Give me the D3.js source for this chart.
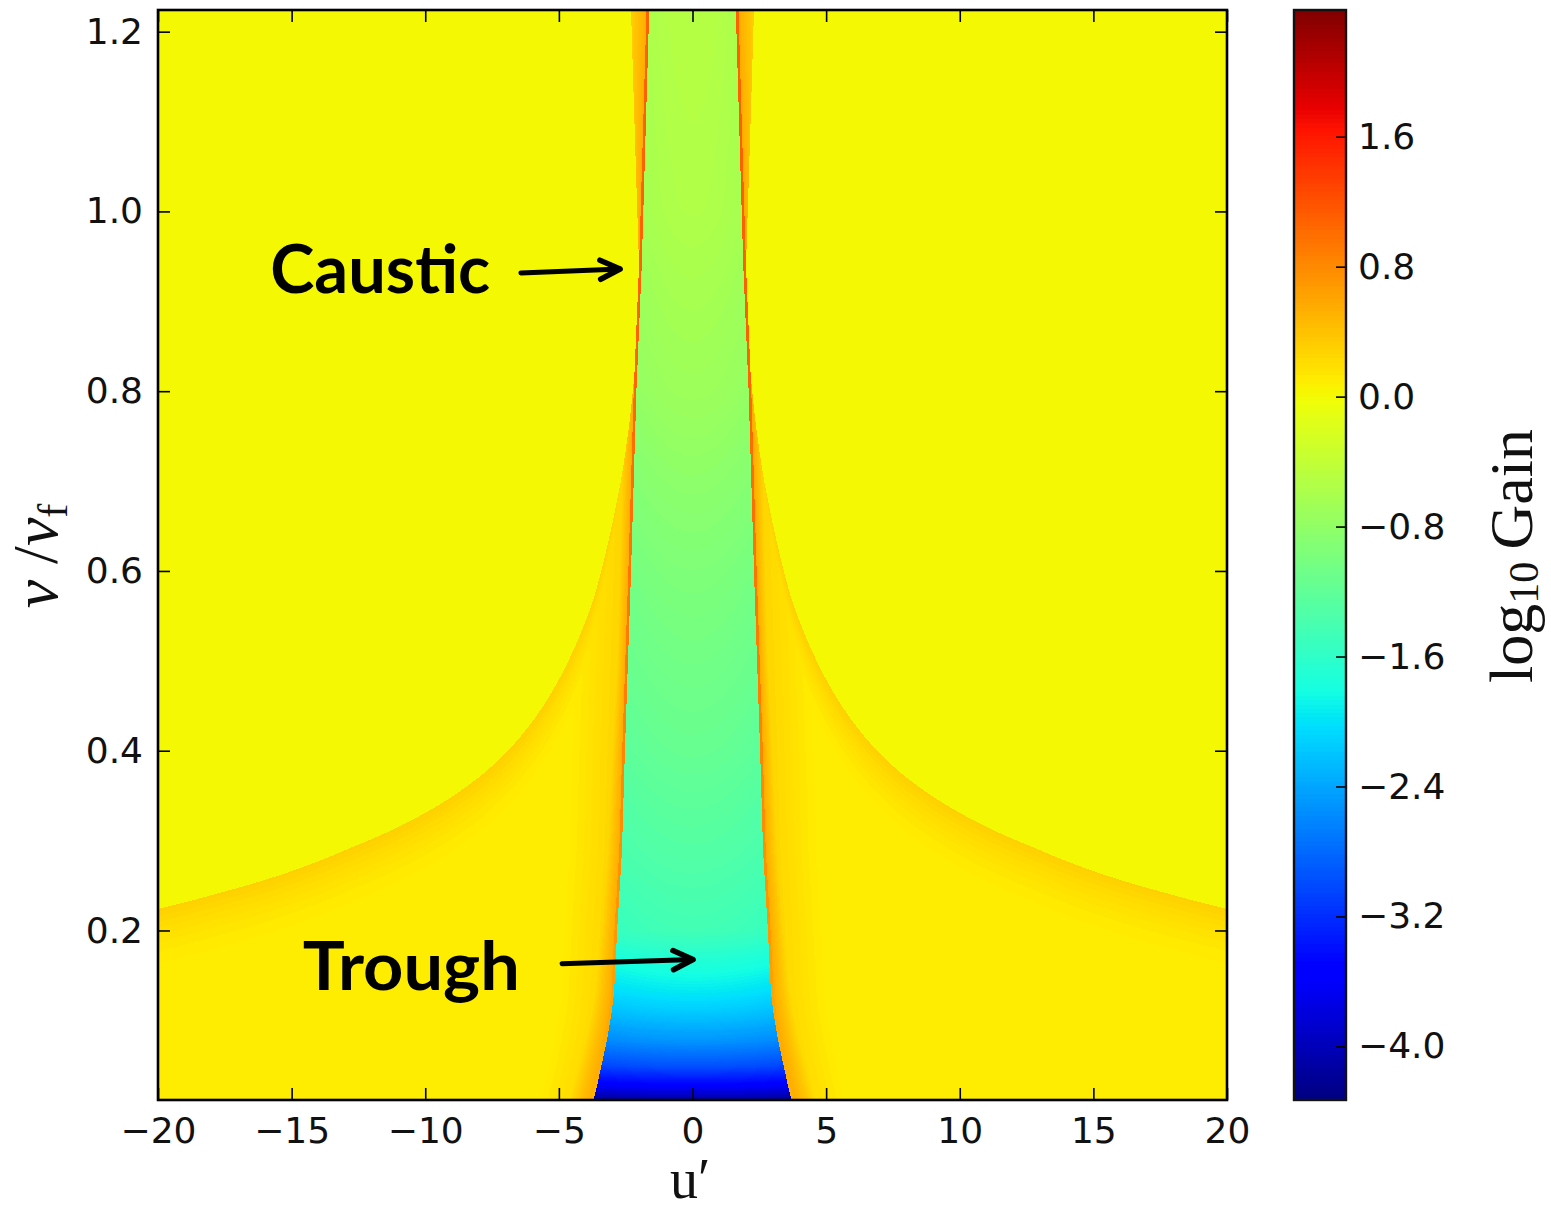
<!DOCTYPE html>
<html>
<head>
<meta charset="utf-8">
<script src="https://cdn.jsdelivr.net/npm/d3@7"></script>
<style>
  body { margin: 0; background: #fff; }
  svg { display: block; }
</style>
</head>
<body>
<svg id="chart" width="1551" height="1213"></svg>
<script>
// ---- values ----
const xTicks = [-20, -15, -10, -5, 0, 5, 10, 15, 20];
const yTicks = [0.2, 0.4, 0.6, 0.8, 1.0, 1.2];
const cbTicks = [1.6, 0.8, 0.0, -0.8, -1.6, -2.4, -3.2, -4.0];

// trough (low-gain channel round u' = 0): half width and log10 gain against nu/nu_f
const troughNu        = [0.012, 0.030, 0.044, 0.078, 0.110, 0.133, 0.170, 0.200, 0.289, 0.400, 0.600, 0.800, 0.940, 1.224];
const troughHalfWidth = [3.70, 3.55, 3.45, 3.20, 3.02, 2.93, 2.87, 2.82, 2.64, 2.53, 2.30, 2.10, 1.90, 1.62];
const gainNu          = [0.012, 0.030, 0.050, 0.078, 0.110, 0.133, 0.167, 0.200, 0.289, 0.400, 0.600, 0.800, 1.000, 1.224];
const troughGain      = [-4.10, -3.45, -2.95, -2.50, -2.15, -1.95, -1.70, -1.45, -1.30, -1.15, -0.95, -0.70, -0.55, -0.50];

// caustic line on the trough edge, and the orange glow beside it
const causticNu   = [0.012, 0.200, 0.500, 0.900, 1.224];
const causticGain = [0.50, 0.70, 0.90, 1.10, 1.10];
const rimWidth    = [0.90, 0.60, 0.40, 0.50, 0.70];

// outer edge of the orange shelf (|u'| against nu/nu_f)
const shelfNu = [0.224, 0.241, 0.263, 0.292, 0.326, 0.374, 0.411, 0.456, 0.511, 0.567, 0.641, 0.714, 0.770, 0.826, 0.881, 0.940, 1.224];
const shelfU  = [20.0, 17.8, 15.3, 12.8, 10.3, 7.84, 6.57, 5.45, 4.47, 3.72, 3.09, 2.60, 2.34, 2.15, 2.04, 2.00, 2.30];

const outsideGain = 0.0;
const shelfNear = 0.30, shelfFar = 0.08, rimPeak = 0.55;

// ---- layout ----
const svg = d3.select('#chart');
const plotL = 158, plotR = 1227, plotT = 10, plotB = 1100;
const cbLeft = 1294, cbRight = 1346;

const x = d3.scaleLinear().domain([-20, 20]).range([plotL, plotR]);
const y = d3.scaleLinear().domain([0.0114, 1.2241]).range([plotB, plotT]);
const cb = d3.scaleLinear().domain([-4.33, 2.38]).range([plotB, plotT]);

// matplotlib jet
const jetR = d3.scaleLinear().domain([0, 0.35, 0.66, 0.89, 1]).range([0, 0, 1, 1, 0.5]).clamp(true);
const jetG = d3.scaleLinear().domain([0, 0.125, 0.375, 0.64, 0.91, 1]).range([0, 0, 1, 1, 0, 0]).clamp(true);
const jetB = d3.scaleLinear().domain([0, 0.11, 0.34, 0.65, 1]).range([0.5, 1, 1, 0, 0]).clamp(true);
const lut = d3.range(256).map(i => {
    let t = i / 255;
    return [Math.round(jetR(t) * 255), Math.round(jetG(t) * 255), Math.round(jetB(t) * 255)];
});
const tOf = d3.scaleLinear().domain(cb.domain()).range([0, 255]).clamp(true);
const colorOf = v => lut[Math.round(tOf(v))];

// lookups on the read values
const troughEdge = d3.scaleLinear().domain(troughNu).range(troughHalfWidth).clamp(true);
const troughLevel = d3.scaleLinear().domain(gainNu).range(troughGain).clamp(true);
const causticLevel = d3.scaleLinear().domain(causticNu).range(causticGain).clamp(true);
const rimW = d3.scaleLinear().domain(causticNu).range(rimWidth).clamp(true);
// the shelf edge is close to a power law, so look it up in log-log
const shelfLog = d3.scaleLog().domain(shelfNu).range(shelfU.map(Math.log));
const shelfEdge = nu => Math.exp(shelfLog(nu));
const shelfInv = d3.scaleLog().domain(shelfU.slice(0, 15)).range(shelfNu.slice(0, 15).map(Math.log));
const shelfCurveNu = a => Math.exp(shelfInv(a));

function gainAt(u, nu) {
    let a = Math.abs(u);
    let w = troughEdge(nu);
    if (a < w) return troughLevel(nu) - 0.08 * (a / w) * (a / w);
    let r = a - w;
    if (r < 0.1) return causticLevel(nu);
    let outer = shelfEdge(nu);
    if (a > outer) return outsideGain;
    let dnu = a < 2.04 ? 0 : shelfCurveNu(a) - nu;
    let pc = Math.max(0, 1 - Math.max(dnu, 0) / 0.09);
    let ptr = Math.max(0, 1 - r / 2.2);
    let shelf = shelfFar + (shelfNear - shelfFar) * Math.max(pc * pc, ptr);
    let rw = rimW(nu);
    if (r < rw) {
        let rim = rimPeak + (shelf - rimPeak) * (r - 0.1) / (rw - 0.1);
        return Math.max(rim, shelf);
    }
    return shelf;
}

// ---- heat map, drawn cell by cell on a canvas and placed in the svg ----
const cw = plotR - plotL, ch = plotB - plotT;
const canvas = document.createElement('canvas');
canvas.width = cw;
canvas.height = ch;
const ctx = canvas.getContext('2d');
const img = ctx.createImageData(cw, ch);
for (let py = 0; py < ch; py++) {
    let nu = y.invert(plotT + py + 0.5);
    for (let px = 0; px < cw; px++) {
        let u = x.invert(plotL + px + 0.5);
        let c = colorOf(gainAt(u, nu));
        let k = (py * cw + px) * 4;
        img.data[k] = c[0];
        img.data[k + 1] = c[1];
        img.data[k + 2] = c[2];
        img.data[k + 3] = 255;
    }
}
ctx.putImageData(img, 0, 0);

svg.append('image')
    .attr('x', plotL)
    .attr('y', plotT)
    .attr('width', cw)
    .attr('height', ch)
    .attr('preserveAspectRatio', 'none')
    .attr('href', canvas.toDataURL());

// ---- axes ----
const tickFont = "'DejaVu Sans', sans-serif";

function styleAxis(g) {
    g.select('.domain').remove();
    g.selectAll('line').attr('stroke', '#000').attr('stroke-width', 1.6);
    g.selectAll('text').attr('fill', '#111');
    g.attr('font-size', 36).attr('font-family', tickFont);
}

svg.append('g')
    .attr('transform', `translate(0,${plotB})`)
    .call(d3.axisBottom(x).tickValues(xTicks).tickSize(-12).tickPadding(17).tickFormat(d3.format('d')))
    .call(styleAxis);

svg.append('g')
    .attr('transform', `translate(0,${plotT})`)
    .call(d3.axisTop(x).tickValues(xTicks).tickSize(-12).tickFormat(''))
    .call(styleAxis);

svg.append('g')
    .attr('transform', `translate(${plotL},0)`)
    .call(d3.axisLeft(y).tickValues(yTicks).tickSize(-12).tickPadding(15).tickFormat(d3.format('.1f')))
    .call(styleAxis);

svg.append('g')
    .attr('transform', `translate(${plotR},0)`)
    .call(d3.axisRight(y).tickValues(yTicks).tickSize(-12).tickFormat(''))
    .call(styleAxis);

svg.append('rect')
    .attr('x', plotL).attr('y', plotT)
    .attr('width', cw).attr('height', ch)
    .attr('fill', 'none')
    .attr('stroke', '#000')
    .attr('stroke-width', 2.6);

// ---- colour bar ----
const cbRows = d3.range(plotT, plotB);
svg.append('g')
    .selectAll('rect')
    .data(cbRows)
    .enter()
    .append('rect')
    .attr('x', cbLeft)
    .attr('y', d => d)
    .attr('width', cbRight - cbLeft)
    .attr('height', 1.2)
    .attr('fill', d => {
        let c = colorOf(cb.invert(d + 0.5));
        return `rgb(${c[0]},${c[1]},${c[2]})`;
    });

svg.append('g')
    .attr('transform', `translate(${cbRight},0)`)
    .call(d3.axisRight(cb).tickValues(cbTicks).tickSize(-10).tickPadding(12).tickFormat(d3.format('.1f')))
    .call(styleAxis);

svg.append('rect')
    .attr('x', cbLeft).attr('y', plotT)
    .attr('width', cbRight - cbLeft).attr('height', plotB - plotT)
    .attr('fill', 'none')
    .attr('stroke', '#111')
    .attr('stroke-width', 2.4);

// ---- axis titles ----
const serif = "'Liberation Serif', 'DejaVu Serif', serif";

svg.append('text')
    .attr('x', 690).attr('y', 1198)
    .attr('text-anchor', 'middle')
    .attr('font-family', serif)
    .attr('font-size', 56)
    .attr('fill', '#111')
    .text('u\u2032');

let ylab = svg.append('text')
    .attr('transform', 'translate(57,556) rotate(-90)')
    .attr('text-anchor', 'middle')
    .attr('font-family', serif)
    .attr('font-size', 64)
    .attr('fill', '#111');
ylab.append('tspan').attr('font-style', 'italic').text('\u03bd');
ylab.append('tspan').text(' /');
ylab.append('tspan').attr('font-style', 'italic').text('\u03bd');
ylab.append('tspan').attr('font-size', 42).attr('dy', 10).text('f');

let cblab = svg.append('text')
    .attr('transform', 'translate(1532,556) rotate(-90)')
    .attr('text-anchor', 'middle')
    .attr('font-family', serif)
    .attr('font-size', 62)
    .attr('fill', '#111');
cblab.append('tspan').text('log');
cblab.append('tspan').attr('font-size', 42).attr('dy', 6).text('10');
cblab.append('tspan').attr('dy', -6).text('\u2009Gain');

// ---- annotations ----
const notes = [
    { label: 'Caustic', tu: -15.8, tnu: 0.909, len: 220, from: [-6.42, 0.9316], to: [-2.71, 0.936] },
    { label: 'Trough', tu: -14.58, tnu: 0.1338, len: 217, from: [-4.88, 0.163], to: [0.02, 0.1677] }
];

notes.forEach(n => {
    svg.append('text')
        .attr('x', x(n.tu))
        .attr('y', y(n.tnu))
        .attr('font-family', "Lato, 'Open Sans', sans-serif")
        .attr('font-weight', 700)
        .attr('font-size', 66)
        .attr('textLength', n.len)
        .attr('lengthAdjust', 'spacingAndGlyphs')
        .attr('fill', '#000')
        .text(n.label);

    let x0 = x(n.from[0]), y0 = y(n.from[1]);
    let x1 = x(n.to[0]), y1 = y(n.to[1]);
    let ang = Math.atan2(y1 - y0, x1 - x0);
    let head = 22, spread = 0.45;
    svg.append('path')
        .attr('d', d3.line()([[x0, y0], [x1, y1]]))
        .attr('stroke', '#000')
        .attr('stroke-width', 5)
        .attr('stroke-linecap', 'round');
    svg.append('path')
        .attr('d', d3.line()([
            [x1 - head * Math.cos(ang - spread), y1 - head * Math.sin(ang - spread)],
            [x1, y1],
            [x1 - head * Math.cos(ang + spread), y1 - head * Math.sin(ang + spread)]
        ]))
        .attr('fill', 'none')
        .attr('stroke', '#000')
        .attr('stroke-width', 5.5)
        .attr('stroke-linecap', 'round')
        .attr('stroke-linejoin', 'round');
});
</script>
</body>
</html>
